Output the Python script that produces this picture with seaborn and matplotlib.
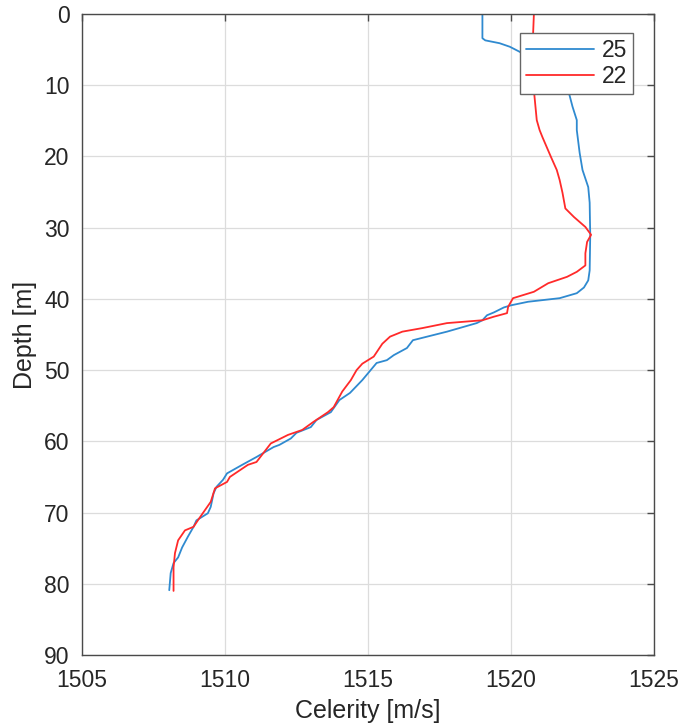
import matplotlib
matplotlib.use("Agg")
import matplotlib.pyplot as plt
import seaborn as sns
import pandas as pd

# Sound-speed profiles (depth in m, celerity in m/s)
depth_25 = [0, 3.4, 3.7, 4.1, 4.6, 5.3, 6.0, 7.0, 8.5, 10.0, 10.7, 13.0, 14.9, 16.3,
            19.5, 21.9, 24.3, 26.5, 28.9, 31.0, 33.6, 36.0, 37.4, 38.4, 39.2, 39.9,
            40.4, 40.9, 41.2, 41.9, 42.3, 43.0, 43.4, 44.6, 45.8, 46.9, 47.9, 48.6,
            49.0, 50.2, 51.4, 53.2, 54.2, 55.9, 57.0, 58.0, 58.8, 59.6, 60.5, 60.8,
            62.2, 63.3, 64.5, 65.4, 66.4, 67.3, 69.2, 70.1, 71.1, 72.0, 73.4, 74.9,
            76.3, 77.1, 78.5, 80.9]
cel_25 = [1519.0, 1519.0, 1519.1, 1519.6, 1519.96, 1520.3, 1520.6, 1521.1, 1521.6,
          1521.9, 1522.0, 1522.15, 1522.3, 1522.3, 1522.4, 1522.5, 1522.7, 1522.75,
          1522.76, 1522.77, 1522.76, 1522.75, 1522.7, 1522.55, 1522.3, 1521.7,
          1520.6, 1520.0, 1519.75, 1519.4, 1519.16, 1519.0, 1518.8, 1517.76,
          1516.57, 1516.36, 1515.9, 1515.66, 1515.3, 1515.05, 1514.8, 1514.37,
          1514.0, 1513.7, 1513.2, 1513.0, 1512.5, 1512.3, 1511.9, 1511.7, 1511.1,
          1510.6, 1510.07, 1509.93, 1509.7, 1509.6, 1509.5, 1509.4, 1509.0, 1508.9,
          1508.7, 1508.5, 1508.36, 1508.2, 1508.1, 1508.05]

depth_22 = [0, 5.0, 10.7, 14.9, 16.3, 17.3, 20.1, 21.9, 23.3, 25.1, 27.3, 28.5, 29.9,
            31.0, 32.0, 33.6, 35.3, 36.2, 36.9, 37.8, 39.0, 39.9, 41.1, 42.0, 42.5,
            43.0, 43.4, 44.1, 44.6, 45.3, 46.3, 48.1, 49.1, 50.0, 51.4, 53.0, 55.2,
            55.9, 57.3, 58.4, 59.1, 60.3, 62.9, 63.3, 65.0, 65.7, 66.6, 68.5, 70.8,
            72.0, 72.5, 73.9, 75.7, 77.7, 81.0]
cel_22 = [1520.8, 1520.75, 1520.8, 1520.9, 1521.0, 1521.1, 1521.4, 1521.6, 1521.7,
          1521.8, 1521.9, 1522.2, 1522.6, 1522.8, 1522.66, 1522.6, 1522.6, 1522.3,
          1521.96, 1521.3, 1520.8, 1520.07, 1519.9, 1519.86, 1519.4, 1519.0,
          1517.76, 1516.9, 1516.2, 1515.77, 1515.5, 1515.2, 1514.8, 1514.6, 1514.4,
          1514.1, 1513.8, 1513.6, 1513.08, 1512.7, 1512.2, 1511.6, 1511.1, 1510.8,
          1510.17, 1510.07, 1509.65, 1509.5, 1509.1, 1508.9, 1508.6, 1508.36,
          1508.25, 1508.2, 1508.2]

series_labels = ["25", "22"]
x_ticks = [1505, 1510, 1515, 1520, 1525]
y_ticks = [0, 10, 20, 30, 40, 50, 60, 70, 80, 90]

df = pd.concat([
    pd.DataFrame({"depth": depth_25, "celerity": cel_25, "profile": series_labels[0]}),
    pd.DataFrame({"depth": depth_22, "celerity": cel_22, "profile": series_labels[1]}),
], ignore_index=True)

sns.set_style("white")
plt.rcParams["font.family"] = ["Liberation Sans", "DejaVu Sans"]

fig = plt.figure(figsize=(6.79, 7.26), dpi=100)
ax = fig.add_axes([0.1208, 0.0978, 0.8424, 0.8829])

sns.lineplot(data=df, x="celerity", y="depth", hue="profile", sort=False,
             estimator=None, orient="y",
             palette={"25": "#2f8ad0", "22": "#ff2a2a"}, linewidth=1.3, ax=ax)

ax.set_xlim(1505, 1525)
ax.set_ylim(90, 0)
ax.set_xticks(x_ticks)
ax.set_yticks(y_ticks)
ax.grid(True, color="#dcdcdc", linewidth=0.9)
ax.set_axisbelow(True)

for s in ax.spines.values():
    s.set_visible(True)
    s.set_color("#4a4a4a")
    s.set_linewidth(1.0)

ax.tick_params(direction="in", length=5, width=1.0, colors="#4a4a4a",
               top=True, right=True, labelsize=16.5)
ax.tick_params(axis="x", pad=10)
ax.tick_params(axis="y", pad=9)
for lbl in ax.get_xticklabels() + ax.get_yticklabels():
    lbl.set_color("#262626")

ax.set_xlabel("Celerity [m/s]", fontsize=18, color="#262626", labelpad=5)
ax.set_ylabel("Depth [m]", fontsize=18, color="#262626", labelpad=5)

leg = ax.legend(loc="upper right", bbox_to_anchor=(0.964, 0.970), fontsize=16.5,
                frameon=True, fancybox=False, framealpha=1, edgecolor="#666666",
                handlelength=3.0, borderpad=0.25, labelspacing=0.15, handletextpad=0.35,
                borderaxespad=0)
leg.get_frame().set_linewidth(1.0)

fig.savefig("out.png", dpi=100)
